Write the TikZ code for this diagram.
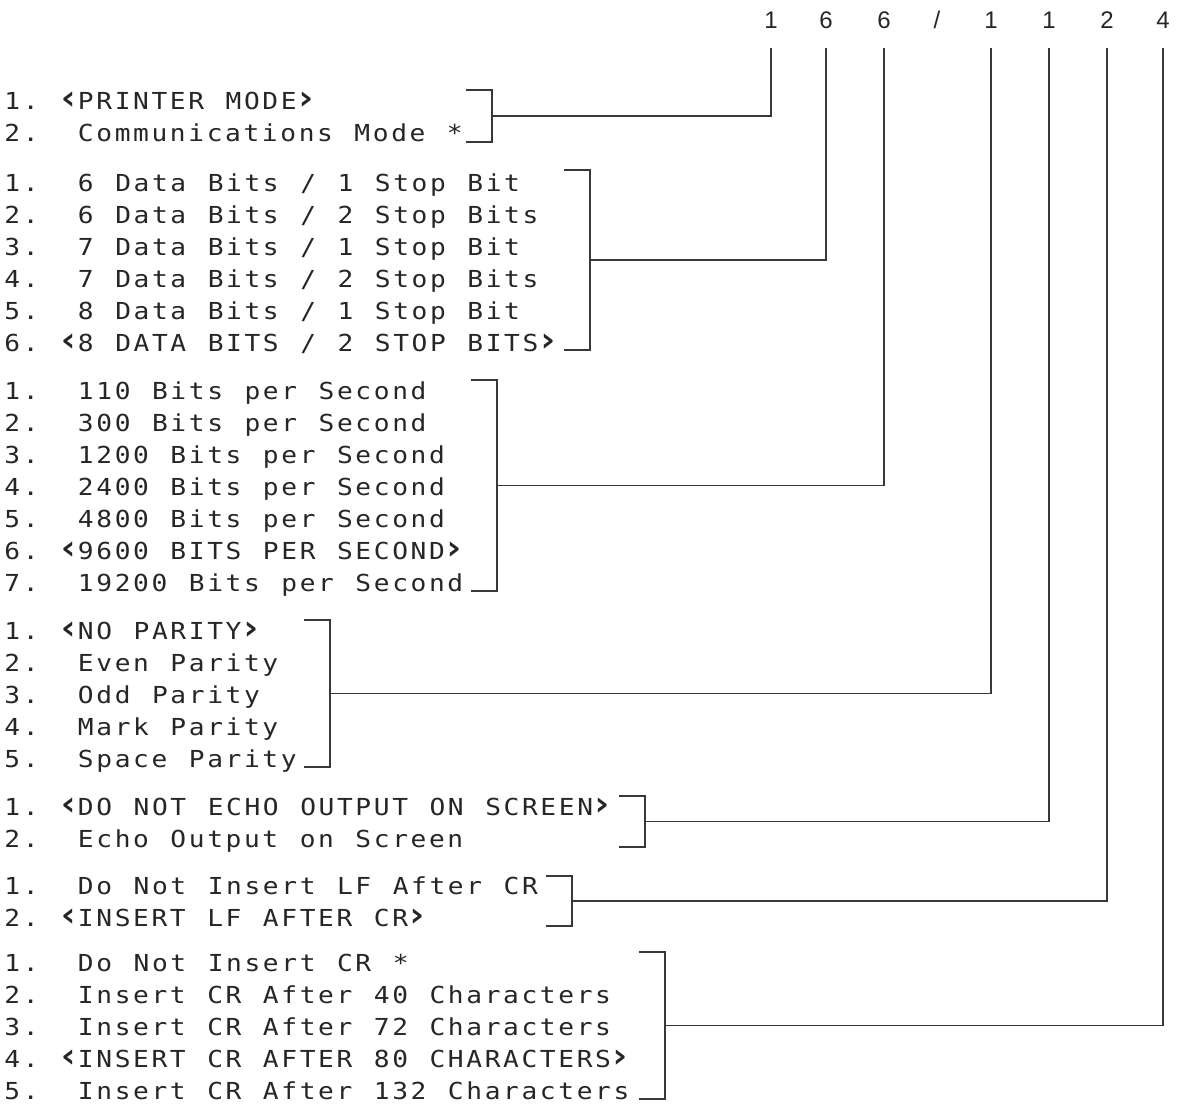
\documentclass[tikz,border=0pt]{standalone}
\usepackage{fontspec}
\usepackage{xcolor}
\usetikzlibrary{calc}
\newfontfamily\plotfont{DejaVu Sans Mono}[FakeStretch=1.12, LetterSpace=11.2, WordSpace=1.17]
\newfontfamily\digitfont{Liberation Sans}
\definecolor{ink}{HTML}{262626}
\definecolor{wire}{HTML}{383838}
\newlength{\cellw}\setlength{\cellw}{9.2pt}
% chevrons round the default setting
\newcommand{\lchev}{\makebox[\cellw]{\bfseries\fontsize{17}{17}\selectfont ‹}}
\newcommand{\rchev}{\makebox[\cellw]{\bfseries\fontsize{17}{17}\selectfont ›}}
% option row: number column, then text
\newcommand{\opt}[2]{\makebox[4\cellw][l]{#1}#2}
% default row: number column, then text in chevrons
\newcommand{\dflt}[2]{\makebox[3\cellw][l]{#1}\lchev#2\rchev}
\tikzset{
  rowtext/.style={anchor=base west, inner sep=0pt, text=ink,
    font=\plotfont\fontsize{11.7}{14}\selectfont},
  digit/.style={anchor=base, inner sep=0pt, outer ysep=10pt, text=ink,
    font=\digitfont\fontsize{12}{14}\selectfont},
  wireline/.style={draw=wire, line width=0.8pt},
}

\begin{document}
\begin{tikzpicture}[x=0.5pt,y=-0.5pt]
        \useasboundingbox (0,0) rectangle (1177,1103);
        \fill[white] (0,0) rectangle (1177,1103);

        % Switch digits
        \node[digit] (d1) at (771,28) {1};
        \node[digit] (d2) at (826,28) {6};
        \node[digit] (d3) at (884,28) {6};
        \node[digit] (sl) at (937,28) {/};
        \node[digit] (d4) at (991,28) {1};
        \node[digit] (d5) at (1049,28) {1};
        \node[digit] (d6) at (1107,28) {2};
        \node[digit] (d7) at (1163,28) {4};

        % Mode
        \node[rowtext] (mode1) at (4,109) {\dflt{1.}{PRINTER MODE}};
        \node[rowtext] (mode2) at (4,141) {\opt{2.}{Communications Mode *}};
        \draw[wireline] (466,90) -- (492,90) -- coordinate (mmode) (492,142) -- (466,142);
        \draw[wireline] (mmode) -| (d1.south);

        % Data bits / stop bits
        \node[rowtext] (word1) at (4,191) {\opt{1.}{6 Data Bits / 1 Stop Bit}};
        \node[rowtext] (word2) at (4,223) {\opt{2.}{6 Data Bits / 2 Stop Bits}};
        \node[rowtext] (word3) at (4,255) {\opt{3.}{7 Data Bits / 1 Stop Bit}};
        \node[rowtext] (word4) at (4,287) {\opt{4.}{7 Data Bits / 2 Stop Bits}};
        \node[rowtext] (word5) at (4,319) {\opt{5.}{8 Data Bits / 1 Stop Bit}};
        \node[rowtext] (word6) at (4,351) {\dflt{6.}{8 DATA BITS / 2 STOP BITS}};
        \draw[wireline] (564,170) -- (590,170) -- coordinate (mword) (590,350) -- (564,350);
        \draw[wireline] (mword) -| (d2.south);

        % Baud rate
        \node[rowtext] (baud1) at (4,399) {\opt{1.}{110 Bits per Second}};
        \node[rowtext] (baud2) at (4,431) {\opt{2.}{300 Bits per Second}};
        \node[rowtext] (baud3) at (4,463) {\opt{3.}{1200 Bits per Second}};
        \node[rowtext] (baud4) at (4,495) {\opt{4.}{2400 Bits per Second}};
        \node[rowtext] (baud5) at (4,527) {\opt{5.}{4800 Bits per Second}};
        \node[rowtext] (baud6) at (4,559) {\dflt{6.}{9600 BITS PER SECOND}};
        \node[rowtext] (baud7) at (4,591) {\opt{7.}{19200 Bits per Second}};
        \draw[wireline] (471,380) -- (497,380) -- coordinate (mbaud) (497,591) -- (471,591);
        \draw[wireline] (mbaud) -| (d3.south);

        % Parity
        \node[rowtext] (par1) at (4,639) {\dflt{1.}{NO PARITY}};
        \node[rowtext] (par2) at (4,671) {\opt{2.}{Even Parity}};
        \node[rowtext] (par3) at (4,703) {\opt{3.}{Odd Parity}};
        \node[rowtext] (par4) at (4,735) {\opt{4.}{Mark Parity}};
        \node[rowtext] (par5) at (4,767) {\opt{5.}{Space Parity}};
        \draw[wireline] (304,620) -- (330,620) -- coordinate (mpar) (330,767) -- (304,767);
        \draw[wireline] (mpar) -| (d4.south);

        % Echo
        \node[rowtext] (echo1) at (4,815) {\dflt{1.}{DO NOT ECHO OUTPUT ON SCREEN}};
        \node[rowtext] (echo2) at (4,847) {\opt{2.}{Echo Output on Screen}};
        \draw[wireline] (619,796) -- (645,796) -- coordinate (mecho) (645,847) -- (619,847);
        \draw[wireline] (mecho) -| (d5.south);

        % Line feed
        \node[rowtext] (lf1) at (4,894) {\opt{1.}{Do Not Insert LF After CR}};
        \node[rowtext] (lf2) at (4,926) {\dflt{2.}{INSERT LF AFTER CR}};
        \draw[wireline] (546,876) -- (572,876) -- coordinate (mlf) (572,926) -- (546,926);
        \draw[wireline] (mlf) -| (d6.south);

        % Carriage return
        \node[rowtext] (cr1) at (4,971) {\opt{1.}{Do Not Insert CR *}};
        \node[rowtext] (cr2) at (4,1003) {\opt{2.}{Insert CR After 40 Characters}};
        \node[rowtext] (cr3) at (4,1035) {\opt{3.}{Insert CR After 72 Characters}};
        \node[rowtext] (cr4) at (4,1067) {\dflt{4.}{INSERT CR AFTER 80 CHARACTERS}};
        \node[rowtext] (cr5) at (4,1099) {\opt{5.}{Insert CR After 132 Characters}};
        \draw[wireline] (639,952) -- (665,952) -- coordinate (mcr) (665,1099) -- (639,1099);
        \draw[wireline] (mcr) -| (d7.south);
    \end{tikzpicture}
\end{document}
